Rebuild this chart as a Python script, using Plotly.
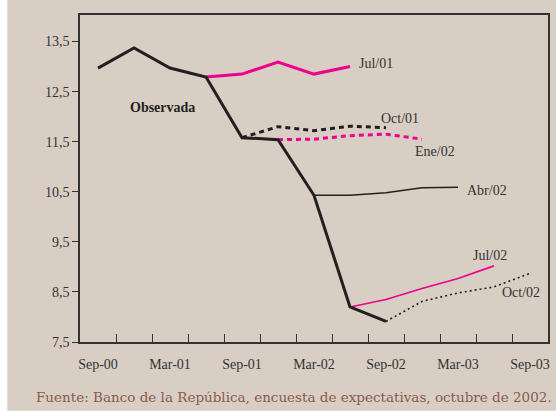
import plotly.graph_objects as go

# ---- data ----
quarters = ["Sep-00", "Dic-00", "Mar-01", "Jun-01", "Sep-01", "Dic-01", "Mar-02",
            "Jun-02", "Sep-02", "Dic-02", "Mar-03", "Jun-03", "Sep-03"]
tick_labels = ["Sep-00", "Mar-01", "Sep-01", "Mar-02", "Sep-02", "Mar-03", "Sep-03"]
y_ticks = [7.5, 8.5, 9.5, 10.5, 11.5, 12.5, 13.5]

observada = [12.97, 13.37, 12.97, 12.79, 11.58, 11.54, 10.43, 8.20, 7.91]
jul01 = [12.79, 12.85, 13.09, 12.85, 13.00]          # from Jun-01
oct01 = [11.58, 11.80, 11.72, 11.81, 11.78]          # from Sep-01
ene02 = [11.54, 11.55, 11.62, 11.65, 11.55]          # from Dic-01
abr02 = [10.43, 10.43, 10.48, 10.58, 10.59]          # from Mar-02
jul02 = [8.20, 8.35, 8.57, 8.77, 9.02]               # from Jun-02
oct02 = [7.91, 8.31, 8.48, 8.60, 8.87]               # from Sep-02

series = [
    # name, values, start quarter, color, width, dash
    ("Observada", observada, "Sep-00", "#231F20", 3, "solid"),
    ("Jul/01", jul01, "Jun-01", "#EC008C", 3, "solid"),
    ("Oct/01", oct01, "Sep-01", "#231F20", 3, "5px,4px"),
    ("Ene/02", ene02, "Dic-01", "#EC008C", 3, "5px,4px"),
    ("Abr/02", abr02, "Mar-02", "#231F20", 1.6, "solid"),
    ("Jul/02", jul02, "Jun-02", "#EC008C", 1.6, "solid"),
    ("Oct/02", oct02, "Sep-02", "#231F20", 1.6, "2px,3px"),
]

idx = {q: i for i, q in enumerate(quarters)}

fig = go.Figure()
# draw later series first so observed line sits on top
for name, vals, start, color, width, dash in reversed(series):
    s = idx[start]
    fig.add_trace(go.Scatter(
        x=list(range(s, s + len(vals))), y=vals, mode="lines", name=name,
        line=dict(color=color, width=width, dash=dash),
        hoverinfo="name+y", showlegend=False))

serif = "Liberation Serif, Times New Roman, serif"
lab_color = "#333333"
BG = "#D9CEC4"

labels = [
    ("<b>Observada</b>", 1.795, 12.19, "center", "#231F20"),
    ("Jul/01", 7.19, 13.07, "left", lab_color),
    ("Oct/01", 8.38, 11.97, "center", lab_color),
    ("Ene/02", 9.35, 11.31, "center", lab_color),
    ("Abr/02", 10.81, 10.53, "center", lab_color),
    ("Jul/02", 10.90, 9.23, "center", lab_color),
    ("Oct/02", 11.75, 8.49, "center", lab_color),
]
for text, x, y, xa, c in labels:
    fig.add_annotation(x=x, y=y, text=text, showarrow=False, xanchor=xa,
                       yanchor="middle", font=dict(family=serif, size=14, color=c))

fig.add_annotation(xref="paper", yref="paper", x=0.4574, y=-0.168,
                   text="Fuente: Banco de la República, encuesta de expectativas, octubre de 2002.",
                   showarrow=False, xanchor="center", yanchor="middle",
                   font=dict(family="DejaVu Serif, serif", size=13.5, color="#8B5A4E"))

# white strips at left and bottom edges
fig.add_shape(type="rect", xref="paper", yref="paper", x0=-0.3, x1=(7 - 80) / 470,
              y0=-0.3, y1=1.2, fillcolor="white", line_width=0, layer="above")
fig.add_shape(type="rect", xref="paper", yref="paper", x0=-0.3, x1=1.2,
              y0=-0.3, y1=(341.7 - 410.5) / 326.7, fillcolor="white", line_width=0, layer="above")

fig.update_layout(
    width=556, height=412,
    margin=dict(l=80, r=6, t=15, b=70.3),
    paper_bgcolor=BG, plot_bgcolor=BG,
    separators=",.",
    font=dict(family=serif, size=14, color=lab_color),
)
fig.update_xaxes(
    range=[-0.5, 12.5], showgrid=False, zeroline=False,
    showline=True, mirror=True, linecolor="#333333", linewidth=1.5,
    tickmode="array", tickvals=[idx[t] for t in tick_labels], ticktext=tick_labels,
    ticks="", ticklabelstandoff=8,
    tickfont=dict(family=serif, size=14, color=lab_color),
    minor=dict(tickmode="array", tickvals=[i + 0.5 for i in range(len(quarters) - 1)],
               ticks="inside", ticklen=8, tickwidth=1.3, tickcolor="#333333"),
)
fig.update_yaxes(
    range=[7.5, 14.03], showgrid=False, zeroline=False,
    showline=True, mirror=True, linecolor="#333333", linewidth=1.5,
    tickmode="array", tickvals=y_ticks, tickformat=".1f",
    ticks="outside", ticklen=6, tickwidth=1.3, tickcolor="#333333",
    tickfont=dict(family=serif, size=14, color=lab_color),
)

# remove the default page margin so the figure fills the window exactly
fig.write_html("out.html", config={"displayModeBar": False},
               post_script="document.body.style.margin='0';")
